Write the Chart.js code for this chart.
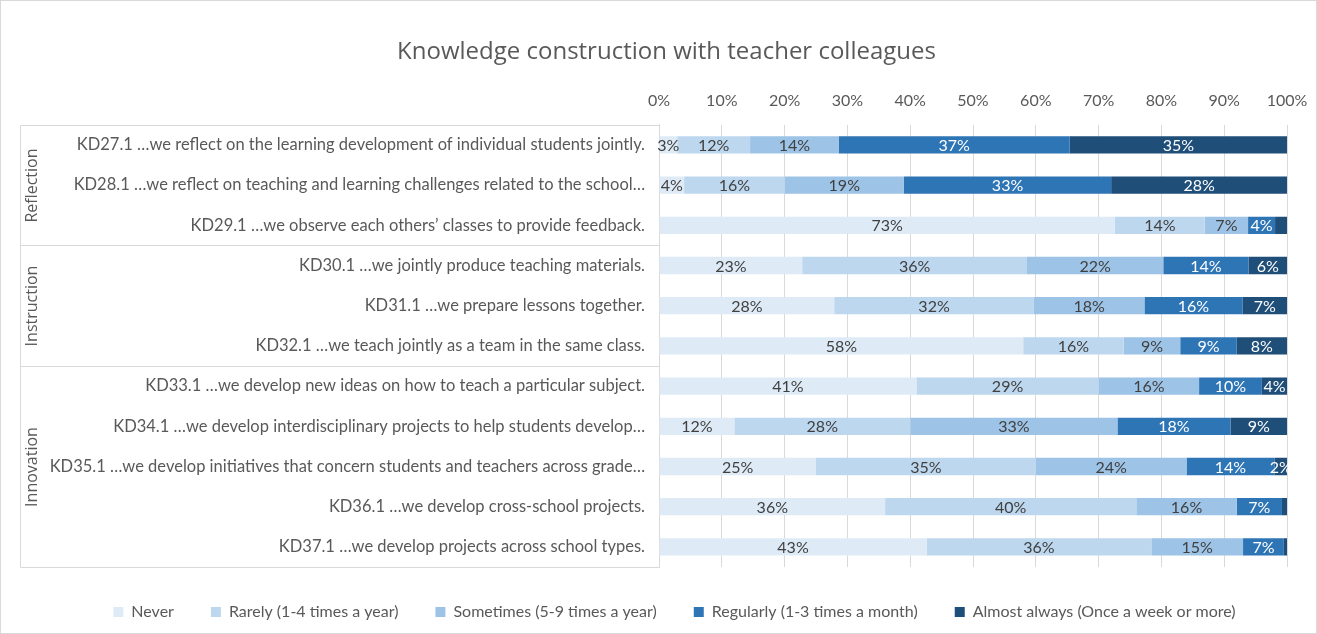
<!DOCTYPE html>
<html>
<head>
<meta charset="utf-8">
<title>Knowledge construction with teacher colleagues</title>
<script src="https://cdn.jsdelivr.net/npm/chart.js@4.4.1/dist/chart.umd.min.js"></script>
<style>
  html, body { margin: 0; padding: 0; background: #fff; }
  canvas { display: block; }
</style>
</head>
<body>
<canvas id="chart" width="1317" height="634"></canvas>
<script>
// --- data (percent of respondents) ---
const categories = [
  'KD27.1 …we reflect on the learning development of individual students jointly.',
  'KD28.1 …we reflect on teaching and learning challenges related to the school…',
  'KD29.1 …we observe each others’ classes to provide feedback.',
  'KD30.1 …we jointly produce teaching materials.',
  'KD31.1 …we prepare lessons together.',
  'KD32.1 …we teach jointly as a team in the same class.',
  'KD33.1 …we develop new ideas on how to teach a particular subject.',
  'KD34.1 …we develop interdisciplinary projects to help students develop…',
  'KD35.1 …we develop initiatives that concern students and teachers across grade…',
  'KD36.1 …we develop cross-school projects.',
  'KD37.1 …we develop projects across school types.'
];
const groupNames = ['Reflection', 'Instruction', 'Innovation'];
const groupSizes = [3, 3, 5];

const seriesNames = [
  'Never',
  'Rarely (1-4 times a year)',
  'Sometimes (5-9 times a year)',
  'Regularly (1-3 times a month)',
  'Almost always (Once a week or more)'
];
const never     = [2.9, 4, 72.6, 22.8, 27.9, 58, 41, 12, 25, 36, 42.6];
const rarely    = [11.6, 16, 14.3, 35.8, 31.8, 16, 29, 28, 35, 40, 35.8];
const sometimes = [14.1, 19, 6.9, 21.7, 17.6, 9, 16, 33, 24, 16, 14.6];
const regularly = [36.8, 33, 4.3, 13.6, 15.6, 9, 10, 18, 14, 7.2, 6.5];
const almost    = [34.6, 28, 1.9, 6.1, 7.1, 8, 4, 9, 2, 0.8, 0.5];

const xTicks = [0, 10, 20, 30, 40, 50, 60, 70, 80, 90, 100];

const colors = ['#deebf7', '#bdd7ee', '#9dc3e6', '#2e75b6', '#1f4e79'];
const labelColors = ['#404040', '#404040', '#404040', '#ffffff', '#ffffff'];
const TEXT = '#595959';
const LINE = '#d9d9d9';
const FONT = "Lato, 'Noto Sans', sans-serif";
const TITLE_FONT = "'Open Sans', 'Noto Sans', sans-serif";

// segment labels, drawn in the middle of each bar piece
const segLabels = {
  id: 'segLabels',
  afterDatasetsDraw(chart) {
    const ctx = chart.ctx;
    ctx.save();
    ctx.font = '16px ' + FONT;
    ctx.textAlign = 'center';
    ctx.textBaseline = 'middle';
    chart.data.datasets.forEach((ds, i) => {
      chart.getDatasetMeta(i).data.forEach((bar, j) => {
        const v = ds.data[j];
        if (v < 1.95) return;
        const p = bar.getProps(['x', 'y', 'base'], true);
        ctx.fillStyle = labelColors[i];
        ctx.fillText(Math.round(v) + '%', (p.x + p.base) / 2, p.y + 1);
      });
    });
    ctx.restore();
  }
};

// title and legend sit a bit right of the canvas centre in the original
const nudge = {
  id: 'nudge',
  afterLayout(chart) {
    if (chart.titleBlock) { chart.titleBlock.left += 23; chart.titleBlock.right += 23; }
    if (chart.legend) { chart.legend.left += 31; chart.legend.right += 31; }
  }
};

// group boxes on the left (Reflection / Instruction / Innovation) and outer frame
const groupBoxes = {
  id: 'groupBoxes',
  afterDraw(chart) {
    const { ctx, chartArea } = chart;
    const y = chart.scales.y;
    const half = (y.getPixelForValue(1) - y.getPixelForValue(0)) / 2;
    const left = 20.5;
    const right = Math.round(chartArea.left) + 0.5;
    ctx.save();
    ctx.strokeStyle = LINE;
    ctx.lineWidth = 1;

    let start = 0;
    const lines = [Math.round(y.getPixelForValue(0) - half) + 0.5];
    groupSizes.forEach(n => {
      lines.push(Math.round(y.getPixelForValue(start + n - 1) + half) + 0.5);
      start += n;
    });
    ctx.beginPath();
    lines.forEach(ly => { ctx.moveTo(left, ly); ctx.lineTo(right, ly); });
    ctx.moveTo(left, lines[0]);
    ctx.lineTo(left, lines[lines.length - 1]);
    ctx.stroke();

    ctx.fillStyle = TEXT;
    ctx.font = '16px ' + TITLE_FONT;
    ctx.textAlign = 'center';
    ctx.textBaseline = 'middle';
    groupNames.forEach((name, k) => {
      const mid = (lines[k] + lines[k + 1]) / 2;
      ctx.save();
      ctx.translate(32, mid);
      ctx.rotate(-Math.PI / 2);
      ctx.fillText(name, 0, 0);
      ctx.restore();
    });

    ctx.strokeRect(0.5, 0.5, chart.width - 1, chart.height - 1);
    ctx.restore();
  }
};

const series = [never, rarely, sometimes, regularly, almost];

new Chart(document.getElementById('chart'), {
  type: 'bar',
  data: {
    labels: categories,
    datasets: series.map((d, i) => ({
      label: seriesNames[i],
      data: d,
      backgroundColor: colors[i],
      borderWidth: 0,
      barPercentage: 0.43,
      categoryPercentage: 1
    }))
  },
  options: {
    indexAxis: 'y',
    responsive: false,
    animation: false,
    layout: { padding: { left: 0, right: 30, top: 0, bottom: 4 } },
    plugins: {
      title: {
        display: true,
        text: 'Knowledge construction with teacher colleagues',
        color: TEXT,
        font: { family: TITLE_FONT, size: 24, weight: 'normal' },
        padding: { top: 38, bottom: 11 }
      },
      legend: {
        position: 'bottom',
        labels: {
          color: TEXT,
          font: { family: FONT, size: 16 },
          boxWidth: 10,
          boxHeight: 10,
          padding: 37
        }
      },
      tooltip: { enabled: false }
    },
    scales: {
      x: {
        position: 'top',
        stacked: true,
        min: 0,
        max: 100,
        afterBuildTicks(scale) { scale.ticks = xTicks.map(v => ({ value: v })); },
        afterFit(scale) {
          scale.height = 47;
          scale.paddingLeft = 0;
          scale.paddingRight = 0;
        },
        ticks: {
          color: TEXT,
          font: { family: FONT, size: 16 },
          padding: 14,
          callback: v => v + '%'
        },
        grid: { color: LINE, drawTicks: false },
        border: { display: false }
      },
      y: {
        stacked: true,
        afterFit(scale) { scale.width = 659; },
        ticks: {
          color: TEXT,
          font: { family: FONT, size: 16.5 },
          padding: 14,
          autoSkip: false
        },
        grid: { display: false, drawTicks: false },
        border: { display: true, color: LINE }
      }
    }
  },
  plugins: [segLabels, nudge, groupBoxes]
});
</script>
</body>
</html>
